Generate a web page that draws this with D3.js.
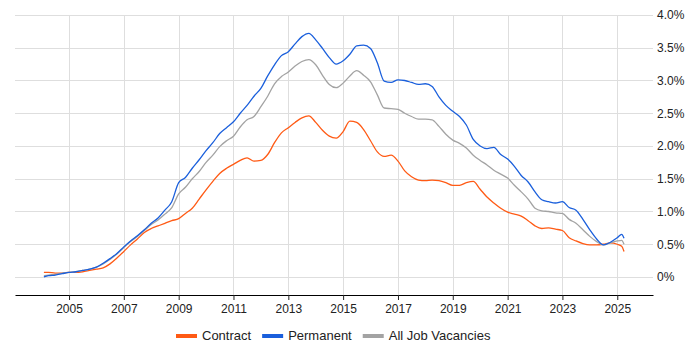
<!DOCTYPE html>
<html>
<head>
<meta charset="utf-8">
<script src="https://cdn.jsdelivr.net/npm/d3@7"></script>
<style>
	body { margin: 0; background: #fff; }
	svg { display: block; font-family: "Liberation Sans", Arial, sans-serif; }
</style>
</head>
<body>
<svg id="chart" width="700" height="350"></svg>
<script>
// quarterly readings (% of vacancies)
const dates = [
	"2004-02","2004-04","2004-07","2004-10","2005-01","2005-04","2005-07","2005-10",
	"2006-01","2006-04","2006-07","2006-10","2007-01","2007-04","2007-07","2007-10",
	"2008-01","2008-04","2008-07","2008-10","2009-01","2009-04","2009-07","2009-10",
	"2010-01","2010-04","2010-07","2010-10","2011-01","2011-04","2011-07","2011-10",
	"2012-01","2012-04","2012-07","2012-10","2013-01","2013-04","2013-07","2013-10",
	"2014-01","2014-04","2014-07","2014-10","2015-01","2015-04","2015-07","2015-10",
	"2016-01","2016-04","2016-07","2016-10","2017-01","2017-04","2017-07","2017-10",
	"2018-01","2018-04","2018-07","2018-10","2019-01","2019-04","2019-07","2019-10",
	"2020-01","2020-04","2020-07","2020-10","2021-01","2021-04","2021-07","2021-10",
	"2022-01","2022-04","2022-07","2022-10","2023-01","2023-04","2023-07","2023-10",
	"2024-01","2024-04","2024-07","2024-10","2025-01","2025-03","2025-04"
];
const contract = [
	0.07,0.07,0.06,0.06,0.07,0.07,0.08,0.10,
	0.12,0.14,0.20,0.29,0.39,0.49,0.58,0.68,
	0.74,0.78,0.82,0.86,0.89,0.97,1.05,1.19,
	1.33,1.46,1.58,1.66,1.72,1.78,1.82,1.77,
	1.78,1.87,2.05,2.20,2.28,2.36,2.43,2.46,
	2.36,2.24,2.15,2.12,2.22,2.38,2.36,2.25,
	2.08,1.91,1.84,1.86,1.77,1.62,1.53,1.48,
	1.47,1.48,1.47,1.44,1.40,1.40,1.44,1.46,
	1.34,1.22,1.13,1.05,0.99,0.96,0.93,0.86,
	0.78,0.74,0.75,0.73,0.71,0.60,0.55,0.51,
	0.49,0.49,0.50,0.52,0.50,0.47,0.39
];
const permanent = [
	0.00,0.02,0.03,0.05,0.07,0.08,0.10,0.12,
	0.15,0.21,0.28,0.36,0.46,0.55,0.63,0.72,
	0.82,0.90,1.02,1.15,1.44,1.52,1.66,1.79,
	1.93,2.05,2.19,2.28,2.37,2.50,2.62,2.76,
	2.88,3.07,3.24,3.38,3.44,3.56,3.67,3.72,
	3.62,3.49,3.35,3.25,3.30,3.40,3.53,3.54,
	3.49,3.27,2.99,2.97,3.01,3.00,2.97,2.94,
	2.95,2.91,2.75,2.62,2.53,2.45,2.32,2.10,
	2.00,1.96,1.98,1.87,1.80,1.69,1.55,1.45,
	1.30,1.18,1.15,1.13,1.15,1.06,1.02,0.88,
	0.72,0.58,0.49,0.53,0.60,0.65,0.59
];
const allJobs = [
	0.02,0.03,0.04,0.06,0.07,0.08,0.10,0.12,
	0.15,0.20,0.27,0.35,0.45,0.54,0.62,0.71,
	0.80,0.87,0.96,1.06,1.27,1.37,1.50,1.61,
	1.75,1.86,1.99,2.08,2.15,2.29,2.40,2.45,
	2.60,2.76,2.95,3.06,3.13,3.22,3.29,3.32,
	3.24,3.08,2.94,2.89,2.96,3.07,3.15,3.08,
	2.98,2.78,2.58,2.57,2.56,2.50,2.45,2.41,
	2.41,2.40,2.30,2.18,2.09,2.04,1.97,1.86,
	1.78,1.71,1.63,1.57,1.51,1.40,1.30,1.19,
	1.05,1.01,1.00,0.98,0.97,0.88,0.82,0.72,
	0.62,0.54,0.49,0.52,0.55,0.56,0.50
];
const yTicks = [0, 0.5, 1.0, 1.5, 2.0, 2.5, 3.0, 3.5, 4.0];
const xTickYears = [2005, 2007, 2009, 2011, 2013, 2015, 2017, 2019, 2021, 2023, 2025];

const seriesList = [
	{ name: "Contract", values: contract, color: "#ff5a14" },
	{ name: "Permanent", values: permanent, color: "#1a5fdc" },
	{ name: "All Job Vacancies", values: allJobs, color: "#a3a3a3" }
];

const svg = d3.select("#chart"),
  plotLeft = 15, plotRight = 653, plotTop = 15, plotBottom = 295;

const parseMonth = d3.timeParse("%Y-%m");
const parsed = dates.map(parseMonth);

const x = d3.scaleTime()
  .domain([new Date(2003, 0, 12), new Date(2026, 3, 22)])
  .range([plotLeft, plotRight]);
const y = d3.scaleLinear()
  .domain([-0.275, 4.0])
  .range([plotBottom, plotTop]);

// grid
svg.append("g")
  .selectAll("line")
  .data(yTicks)
  .join("line")
	.attr("x1", plotLeft).attr("x2", plotRight)
	.attr("y1", d => Math.round(y(d)) + 0.5).attr("y2", d => Math.round(y(d)) + 0.5)
	.attr("stroke", "#dedede");

svg.append("g")
  .selectAll("line")
  .data(xTickYears)
  .join("line")
	.attr("x1", d => Math.round(x(new Date(d, 0, 1))) + 0.5)
	.attr("x2", d => Math.round(x(new Date(d, 0, 1))) + 0.5)
	.attr("y1", plotTop).attr("y2", plotBottom)
	.attr("stroke", "#dedede");

// x axis
const xAxis = d3.axisBottom(x)
  .tickValues(xTickYears.map(d => new Date(d, 0, 1)))
  .tickFormat(d3.timeFormat("%Y"))
  .tickSize(5)
  .tickPadding(4)
  .tickSizeOuter(0);

const gx = svg.append("g")
  .attr("transform", "translate(0," + plotBottom + ")")
  .call(xAxis);
gx.select(".domain").attr("stroke", "#000").attr("stroke-width", 1.2);
gx.selectAll(".tick line").attr("stroke", "#222");
gx.selectAll("text").attr("font-size", 12).attr("fill", "#222").attr("font-family", null);

// y labels on the right
const yAxis = d3.axisRight(y)
  .tickValues(yTicks)
  .tickFormat(d => d === 0 ? "0%" : d3.format(".1f")(d) + "%")
  .tickSize(0)
  .tickPadding(4);

const gy = svg.append("g")
  .attr("transform", "translate(" + plotRight + ",0)")
  .call(yAxis);
gy.select(".domain").remove();
gy.selectAll("text").attr("font-size", 12).attr("fill", "#222").attr("font-family", null);

// lines
const line = d3.line()
  .x(function(d, i) { return x(parsed[i]); })
  .y(function(d) { return y(d); })
  .curve(d3.curveMonotoneX);

[seriesList[0], seriesList[2], seriesList[1]].forEach(function(s) {
	svg.append("path")
	  .datum(s.values)
	  .attr("fill", "none")
	  .attr("stroke", s.color)
	  .attr("stroke-width", 1.3)
	  .attr("stroke-linejoin", "round")
	  .attr("d", line);
});

// legend
const legend = svg.append("g");
let cursor = 0;
seriesList.forEach(function(s) {
	const item = legend.append("g").attr("transform", "translate(" + cursor + ",0)");
	item.append("rect")
	  .attr("x", 0).attr("y", 334)
	  .attr("width", 21).attr("height", 4)
	  .attr("fill", s.color);
	const t = item.append("text")
	  .attr("x", 26).attr("y", 340)
	  .attr("font-size", 13)
	  .attr("fill", "#222")
	  .text(s.name);
	cursor += 26 + t.node().getComputedTextLength() + 11;
});
const legendWidth = cursor - 11;
legend.attr("transform", "translate(" + Math.round(333 - legendWidth / 2) + ",0)");
</script>
</body>
</html>
